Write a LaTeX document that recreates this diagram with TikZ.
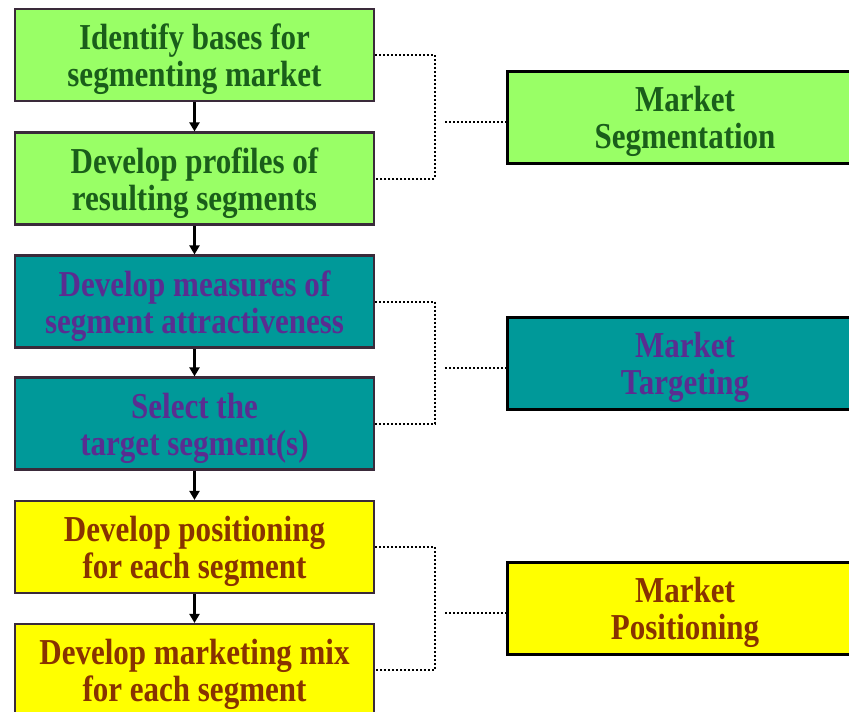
\documentclass[tikz,border=0pt]{standalone}
\usepackage{fontspec}
\setmainfont{Liberation Serif}[FakeStretch=0.85]
\usetikzlibrary{arrows.meta}
\definecolor{gfill}{HTML}{99FF66}
\definecolor{gtext}{HTML}{1A5E1A}
\definecolor{tfill}{HTML}{009999}
\definecolor{ttext}{HTML}{5A2D91}
\definecolor{yfill}{HTML}{FFFF00}
\definecolor{ytext}{HTML}{883300}
\definecolor{lborder}{HTML}{3A2A3A}
\newcommand\liftline{\rule{0pt}{35pt}}
\tikzset{
  lbox/.style={draw=lborder, line width=2.2pt, minimum width=359pt, minimum height=92pt,
    inner sep=0pt, align=center, font=\fontsize{36.5}{37}\selectfont\bfseries},
  rbox/.style={draw=black, line width=3pt, minimum width=356pt, minimum height=92pt,
    inner sep=0pt, align=center, font=\fontsize{36.5}{37}\selectfont\bfseries},
  green/.style={fill=gfill, text=gtext},
  teal/.style={fill=tfill, text=ttext},
  yel/.style={fill=yfill, text=ytext},
  flow/.style={draw=black, line width=2.6pt, -{Triangle[length=9pt,width=10pt]}},
  dots/.style={draw=black, line width=2pt, dotted}
}
\begin{document}
\begin{tikzpicture}[x=1pt,y=-1pt]
\useasboundingbox (0,0) rectangle (849,712);
\clip (0,0) rectangle (849,712);
\fill[white] (0,0) rectangle (849,712);
% left column
\node[lbox,green] (b1) at (194.5,55) {\liftline Identify bases for\\segmenting market};
\node[lbox,green] (b2) at (194.5,178.5) {\liftline Develop profiles of\\resulting segments};
\node[lbox,teal] (b3) at (194.5,301.5) {\liftline Develop measures of\\segment attractiveness};
\node[lbox,teal] (b4) at (194.5,423.5) {\liftline Select the\\target segment(s)};
\node[lbox,yel] (b5) at (194.5,547) {\liftline Develop positioning\\for each segment};
\node[lbox,yel] (b6) at (194.5,670) {\liftline Develop marketing mix\\for each segment};
% right column
\node[rbox,green] (r1) at (685,117) {\liftline Market\\Segmentation};
\node[rbox,teal] (r2) at (685,363) {\liftline Market\\Targeting};
\node[rbox,yel] (r3) at (685,608) {\liftline Market\\Positioning};
% flow arrows
\draw[flow] (b1.south) -- (b2.north);
\draw[flow] (b2.south) -- (b3.north);
\draw[flow] (b3.south) -- (b4.north);
\draw[flow] (b4.south) -- (b5.north);
\draw[flow] (b5.south) -- (b6.north);
% brackets
\coordinate (k1) at (435,0);
\coordinate (c1) at (445,122);
\coordinate (c2) at (445,368);
\coordinate (c3) at (445,613);
\draw[dots] (b1.east) -- (b1.east -| k1) -- (b2.east -| k1) -- (b2.east);
\draw[dots] (c1) -- (c1 -| r1.west);
\draw[dots] (b3.east) -- (b3.east -| k1) -- (b4.east -| k1) -- (b4.east);
\draw[dots] (c2) -- (c2 -| r2.west);
\draw[dots] (b5.east) -- (b5.east -| k1) -- (b6.east -| k1) -- (b6.east);
\draw[dots] (c3) -- (c3 -| r3.west);
\end{tikzpicture}
\end{document}
